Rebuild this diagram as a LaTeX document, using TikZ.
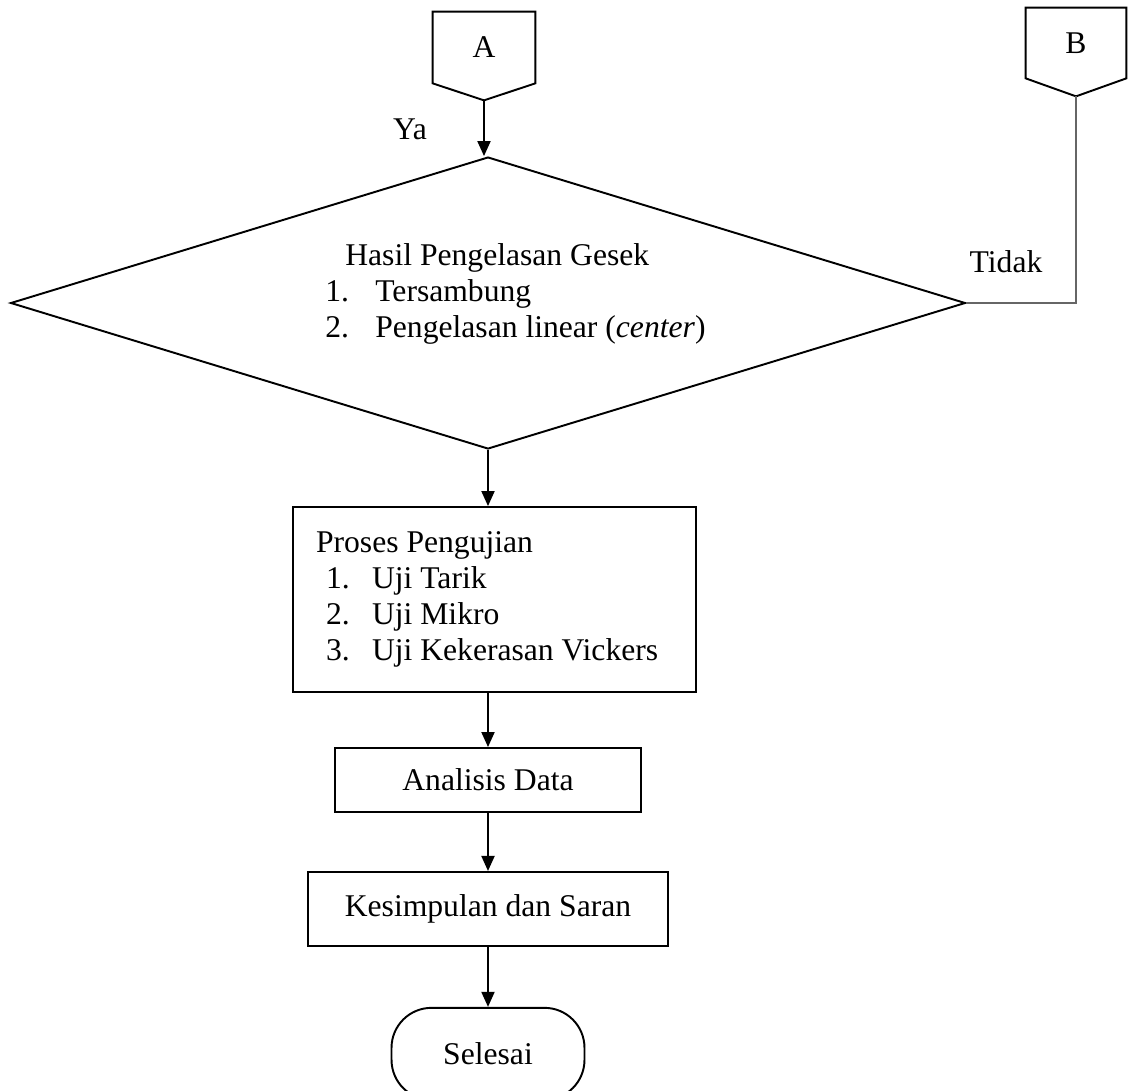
\documentclass[tikz,border=0pt]{standalone}
\usepackage{fontspec}
\setmainfont{Liberation Serif}
\usetikzlibrary{positioning,arrows.meta,shapes.geometric}
\tikzset{
    garis/.style={draw=black,line width=1.1pt},
    tipis/.style={draw=black!60,line width=0.6pt},
    panah/.style={-{Triangle[length=0.3cm,width=0.26cm]},draw=black,line width=1.1pt},
    konektor/.style={minimum width=2.04cm,minimum height=1.42cm,inner sep=0pt},
    keputusan/.style={diamond,garis,minimum width=19.1cm,minimum height=5.84cm,inner sep=0pt},
    prosesbox/.style={draw=black,line width=1.1pt,align=center,inner sep=0pt},
    listbox/.style={draw=black,line width=1.1pt,align=flush left,inner xsep=0.46cm,inner ysep=0pt,
        text width=7.14cm,minimum width=8.06cm,minimum height=3.7cm},
    terminal/.style={draw=black,line width=1.1pt,rounded corners=0.8cm,
        minimum width=3.86cm,minimum height=1.84cm,align=center}
}

\begin{document}
\begin{tikzpicture}[x=0.02cm,y=-0.02cm,font=\fontsize{18}{20.5}\selectfont]
    \useasboundingbox (0,0) rectangle (1135,1090);
    % konektor halaman
    \node[konektor] (A) at (484,47.5) {A};
    \coordinate[below=0.34cm of A.south] (Atip);
    \draw[garis] (A.north west) -- (A.north east) -- (A.south east) -- (Atip) -- (A.south west) -- cycle;
    \node[konektor,minimum width=2.0cm,minimum height=1.4cm] (B) at (1076,43) {B};
    \coordinate[below=0.36cm of B.south] (Btip);
    \draw[garis] (B.north west) -- (B.north east) -- (B.south east) -- (Btip) -- (B.south west) -- cycle;
    % keputusan
    \node[keputusan] (dec) at (488,303) {};
    \node[anchor=north west,inner sep=0pt,align=left] (hasil) at (325,243)
        {\hspace*{0.4cm}Hasil Pengelasan Gesek\\
         \makebox[1cm][l]{1.}Tersambung\\
         \makebox[1cm][l]{2.}Pengelasan linear (\textit{center})};
    \node (ya) at (410,129) {Ya};
    \node (tidak) at (1006,262) {Tidak};
    % proses
    \node[listbox] (uji) at (494.5,599.5)
        {Proses Pengujian\\
         \hspace*{0.2cm}\makebox[0.92cm][l]{1.}Uji Tarik\\
         \hspace*{0.2cm}\makebox[0.92cm][l]{2.}Uji Mikro\\
         \hspace*{0.2cm}\makebox[0.92cm][l]{3.}Uji Kekerasan Vickers};
    \node[prosesbox,minimum width=6.12cm,minimum height=1.28cm] (analisis) at (488,780) {Analisis Data};
    \node[prosesbox,minimum width=7.2cm,minimum height=1.48cm] (simpul) [below=1.16cm of analisis] {Kesimpulan dan Saran};
    \node[terminal] (selesai) [below=1.2cm of simpul] {Selesai};
    % alur
    \draw[panah] (Atip) -- (Atip |- dec.north);
    \draw[tipis] (Btip) |- (dec.east);
    \draw[panah] (dec.south) -- (dec.south |- uji.north);
    \draw[panah] (uji.south -| analisis.north) -- (analisis.north);
    \draw[panah] (analisis) -- (simpul);
    \draw[panah] (simpul) -- (selesai);
\end{tikzpicture}
\end{document}
